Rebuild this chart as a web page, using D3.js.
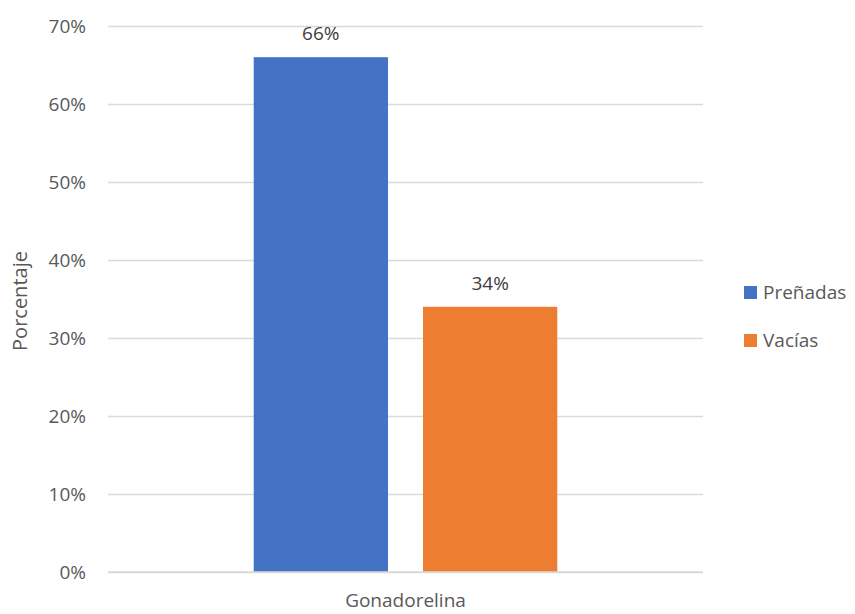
<!DOCTYPE html>
<html>
<head>
<meta charset="utf-8">
<script src="https://cdn.jsdelivr.net/npm/d3@7"></script>
<style>
  html, body { margin: 0; padding: 0; background: #fff; }
  svg { display: block; font-family: "Open Sans", "Noto Sans", sans-serif; }
</style>
</head>
<body>
<svg id="chart" width="855" height="614"></svg>
<script>
// Resultados de preñez por tratamiento
const categories = ["Gonadorelina"];
const seriesNames = ["Preñadas", "Vacías"];
const seriesColors = ["#4472C4", "#ED7D31"];
const prenadas = [0.66];
const vacias = [0.34];
const yTicks = [0, 0.1, 0.2, 0.3, 0.4, 0.5, 0.6, 0.7];

const seriesValues = [prenadas, vacias];

const svg = d3.select("#chart");
const margin = { left: 108, right: 152, top: 26, bottom: 42 };
const W = 855, H = 614;
const textColor = "#595959";
const fs = 19;

const x0 = d3.scaleBand()
  .domain(categories)
  .range([margin.left, W - margin.right])
  .paddingInner(0)
  .paddingOuter(0.48);

const x1 = d3.scaleBand()
  .domain(seriesNames)
  .range([0, x0.bandwidth()])
  .paddingInner(0.207)
  .paddingOuter(0);

const y = d3.scaleLinear()
  .domain([0, 0.7])
  .range([H - margin.bottom, margin.top]);

const fmt = d3.format(".0%");

// Líneas de cuadrícula y etiquetas del eje Y
const yAxis = d3.axisLeft(y)
  .tickValues(yTicks)
  .tickFormat(fmt)
  .tickSize(-(W - margin.left - margin.right))
  .tickPadding(22);

const gy = svg.append("g")
  .attr("transform", `translate(${margin.left},0)`)
  .call(yAxis);
gy.select(".domain").remove();
gy.selectAll(".tick line").attr("stroke", "#d9d9d9").attr("stroke-width", 1.3);
gy.selectAll(".tick text")
  .attr("fill", textColor)
  .attr("font-size", fs)
  .attr("font-family", "'Open Sans', sans-serif");

// Barras
const groups = svg.append("g")
  .selectAll("g")
  .data(categories)
  .join("g")
  .attr("transform", d => `translate(${x0(d)},0)`);

categories.forEach((cat, ci) => {
  const g = groups.filter(d => d === cat);
  seriesNames.forEach((s, si) => {
    const v = seriesValues[si][ci];
    g.append("rect")
      .attr("x", x1(s))
      .attr("y", y(v))
      .attr("width", x1.bandwidth())
      .attr("height", y(0) - y(v))
      .attr("fill", seriesColors[si]);
    g.append("text")
      .attr("x", x1(s) + x1.bandwidth() / 2)
      .attr("y", y(v) - 17)
      .attr("text-anchor", "middle")
      .attr("fill", "#404040")
      .attr("font-size", fs)
      .text(fmt(v));
  });
});

// Eje X (categoría)
const gx = svg.append("g")
  .attr("transform", `translate(0,${y(0)})`)
  .call(d3.axisBottom(x0).tickSize(0).tickPadding(22));
gx.select(".domain").attr("stroke", "#d9d9d9").attr("stroke-width", 1.3)
  .attr("d", `M${margin.left},0H${W - margin.right}`);
gx.selectAll(".tick text")
  .attr("fill", textColor)
  .attr("font-size", fs)
  .attr("font-family", "'Open Sans', sans-serif");

// Título del eje Y
svg.append("text")
  .attr("transform", `translate(27,${(margin.top + H - margin.bottom) / 2 + 2}) rotate(-90)`)
  .attr("text-anchor", "middle")
  .attr("fill", textColor)
  .attr("font-size", 20)
  .text("Porcentaje");

// Leyenda
const legend = svg.append("g").attr("transform", "translate(744,286)");
seriesNames.forEach((s, i) => {
  const row = legend.append("g").attr("transform", `translate(0,${i * 48})`);
  row.append("rect").attr("width", 13).attr("height", 13).attr("fill", seriesColors[i]);
  row.append("text")
    .attr("x", 19)
    .attr("y", 6.5)
    .attr("dy", "0.35em")
    .attr("fill", textColor)
    .attr("font-size", fs)
    .text(s);
});
</script>
</body>
</html>
